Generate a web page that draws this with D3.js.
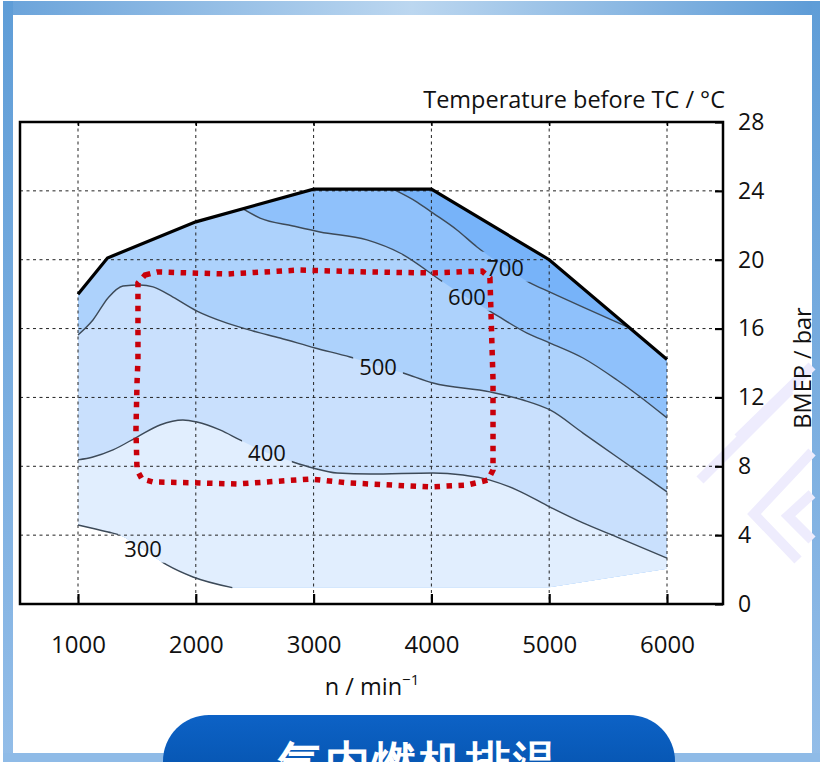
<!DOCTYPE html>
<html><head><meta charset="utf-8">
<script src="https://cdn.jsdelivr.net/npm/d3@7"></script>
<style>
html,body{margin:0;padding:0;background:#fff;overflow:hidden}
svg{display:block}
text{font-family:"Open Sans","Noto Sans",sans-serif}
</style></head>
<body>
<svg id="c" width="820" height="762"></svg>
<script>
// ---------------- data ----------------
const xTicks = [1000, 2000, 3000, 4000, 5000, 6000];
const yTicks = [0, 4, 8, 12, 16, 20, 24, 28];
const xTitle = "n / min";
const yTitle = "BMEP / bar";
const topTitle = "Temperature before TC / °C";
const bannerText = "气内燃机排温";

// full-load curve (n, BMEP)
const fullLoad = [[1000,18.0],[1250,20.1],[2000,22.2],[3000,24.1],[4000,24.1],[5000,20.0],[6000,14.2]];
// lower limit of the measured map (from the end of the 300 °C line to the right edge)
const lowerBound = [[2310,0.97],[5000,0.97],[6000,2.05]];

// iso-temperature contours (°C) : points (n, BMEP)
const c300 = [[1000,4.59],[1255,4.18],[1357,4.0],[1550,3.2],[1755,2.27],[1976,1.57],[2310,0.95]];
const c400 = [[1000,8.37],[1127,8.54],[1297,8.95],[1501,9.70],[1696,10.40],[1891,10.69],[2010,10.57],[2205,10.11],[2375,9.53],[2600,8.8],[2825,8.25],[2995,7.90],[3199,7.61],[3479,7.55],[4014,7.61],[4268,7.49],[4497,7.20],[4727,6.62],[5007,5.63],[5287,4.71],[5576,3.89],[6000,2.67]];
const c500 = [[1000,15.63],[1127,16.50],[1255,17.78],[1382,18.47],[1526,18.53],[1637,18.42],[1806,17.83],[2010,17.02],[2265,16.32],[2486,15.86],[2715,15.45],[3012,14.87],[3309,14.35],[3540,13.85],[3759,13.42],[4014,12.84],[4497,12.32],[4778,11.85],[5007,11.27],[5287,9.93],[5576,8.54],[6000,6.51]];
const c600 = [[2401,22.95],[2545,22.42],[2825,21.96],[3054,21.61],[3453,21.15],[3733,20.39],[4098,18.71],[4300,17.8],[4523,16.90],[4812,15.74],[5007,15.16],[5287,14.29],[5576,13.01],[5760,12.1],[6000,10.81]];
const c700 = [[3674,24.1],[3878,23.35],[4014,22.71],[4217,21.73],[4387,20.74],[4620,19.6],[4837,18.65],[5007,18.12],[5287,17.25],[5686,16.03]];

const contourLevels = [300, 400, 500, 600, 700];
const contourLines  = [c300, c400, c500, c600, c700];
// label anchor positions (n, BMEP)
const labelPos = [[1552,3.20],[2604,8.77],[3547,13.77],[4302,17.83],[4625,19.52]];
// band colours: above each contour level (300-400, 400-500, 500-600, 600-700, >700)
const bandColors = ["#e1eefe", "#c9e0fd", "#add2fc", "#8fc1fb", "#77b3f9"];

// hand-drawn red dotted marker (n, BMEP)
const marker = [[1569,19.11],[1671,19.29],[2265,19.17],[2885,19.40],[3453,19.29],[4014,19.23],[4430,19.34],[4497,18.94],[4523,13.01],[4523,7.78],[4480,7.20],[4302,6.91],[3988,6.80],[3309,7.03],[2969,7.26],[2350,6.97],[2036,7.03],[1637,7.09],[1543,7.26],[1501,7.78],[1492,10.11],[1501,12.84],[1509,14.17],[1509,18.65]];

(function () {
const svg = d3.select("#c");
const defs = svg.append("defs");

// frame gradients
const gTop = defs.append("linearGradient").attr("id","gTop").attr("x1","0").attr("x2","1");
gTop.append("stop").attr("offset","0").attr("stop-color","#6aa3da");
gTop.append("stop").attr("offset","0.5").attr("stop-color","#bcd7f0");
gTop.append("stop").attr("offset","1").attr("stop-color","#5d9bd6");
const gSide = defs.append("linearGradient").attr("id","gSide").attr("x1","0").attr("x2","0").attr("y1","0").attr("y2","1");
gSide.append("stop").attr("offset","0").attr("stop-color","#5f9dd7");
gSide.append("stop").attr("offset","1").attr("stop-color","#93bde8");
const gBtn = defs.append("linearGradient").attr("id","gBtn").attr("x1","0").attr("x2","0").attr("y1","0").attr("y2","1");
gBtn.append("stop").attr("offset","0").attr("stop-color","#0d62c6");
gBtn.append("stop").attr("offset","1").attr("stop-color","#004a9e");

svg.append("rect").attr("x",0).attr("y",0).attr("width",820).attr("height",762).attr("fill","#fff");
// outer page frame
svg.append("rect").attr("x",3).attr("y",1).attr("width",817).attr("height",14).attr("fill","url(#gTop)");
svg.append("rect").attr("x",3).attr("y",1).attr("width",10).attr("height",761).attr("fill","url(#gSide)");
svg.append("rect").attr("x",812).attr("y",1).attr("width",8).attr("height",761).attr("fill","url(#gSide)");
svg.append("rect").attr("x",3).attr("y",753).attr("width",817).attr("height",9).attr("fill","#8fbbe7");

// watermark chevrons (faint)
const wm = svg.append("g").attr("fill","none").attr("stroke","#eeecfd").attr("stroke-width",10);
wm.append("path").attr("d","M700,480 L790,390");
wm.append("path").attr("d","M738,438 L812,366");
wm.append("path").attr("d","M812,452 L754,514 L798,560");
wm.append("path").attr("d","M812,494 L788,516 L812,540");

// scales
const x = d3.scaleLinear().domain([1000, 6000]).range([78, 667]);
const y = d3.scaleLinear().domain([0, 28]).range([604, 122]);
const pL = 20, pR = 723, pT = y(28), pB = y(0);

const line = d3.line().x(d => x(d[0])).y(d => y(d[1])).curve(d3.curveMonotoneX);
const lin  = d3.line().x(d => x(d[0])).y(d => y(d[1]));

// domain outline: 300 °C line, lower bound, full-load (reversed)
const domainD = line(c300) + lin(lowerBound).replace(/^M/, "L") + lin(fullLoad.slice().reverse()).replace(/^M/, "L") + "Z";
defs.append("clipPath").attr("id","dom").append("path").attr("d", domainD);

const bands = svg.append("g").attr("clip-path","url(#dom)");
bands.append("path").attr("d", domainD).attr("fill", bandColors[4]);

function belowPath(pts) {
  const first = pts[0], last = pts[pts.length - 1];
  const pre = first[0] <= 1000 ? [[800, first[1]]] : [[800, 30], [first[0], 30]];
  const post = [[6700, last[1]], [6700, -2], [800, -2]];
  return lin(pre) + line(pts).replace(/^M/, "L") + lin(post).replace(/^M/, "L") + "Z";
}
for (let i = contourLines.length - 1; i >= 1; i--) {
  bands.append("path").attr("d", belowPath(contourLines[i])).attr("fill", bandColors[i - 1]);
}

// grid
const grid = svg.append("g").attr("stroke","#222").attr("stroke-width",1).attr("stroke-dasharray","3,3.5");
grid.selectAll("line.v").data(xTicks).join("line").attr("class","v")
  .attr("x1", d => x(d)).attr("x2", d => x(d)).attr("y1", pT).attr("y2", pB);
grid.selectAll("line.h").data(yTicks.filter(d => d > 0 && d < 28)).join("line").attr("class","h")
  .attr("x1", pL).attr("x2", pR).attr("y1", d => y(d)).attr("y2", d => y(d));

// contour labels, then lines with gaps
const labels = svg.append("g").selectAll("text").data(contourLevels).join("text")
  .attr("x", (d, i) => x(labelPos[i][0])).attr("y", (d, i) => y(labelPos[i][1]))
  .attr("text-anchor","middle").attr("dy","0.35em")
  .attr("font-size", 22).attr("fill","#111").text(d => d);

const mask = defs.append("mask").attr("id","gap").attr("maskUnits","userSpaceOnUse")
  .attr("x",0).attr("y",0).attr("width",820).attr("height",762);
mask.append("rect").attr("x",0).attr("y",0).attr("width",820).attr("height",762).attr("fill","#fff");
labels.each(function() {
  const b = this.getBBox();
  mask.append("rect").attr("x", b.x - 6).attr("y", b.y).attr("width", b.width + 12).attr("height", b.height).attr("fill","#000");
});

svg.append("g").attr("mask","url(#gap)").selectAll("path").data(contourLines).join("path")
  .attr("d", d => line(d)).attr("fill","none").attr("stroke","#3d4a58").attr("stroke-width",1.4);

// full load curve
svg.append("path").attr("d", lin(fullLoad)).attr("fill","none").attr("stroke","#000").attr("stroke-width",3.2);

// red dotted marker
svg.append("path").attr("d", d3.line().x(d => x(d[0])).y(d => y(d[1])).curve(d3.curveLinearClosed)(marker))
  .attr("fill","none").attr("stroke","#c8000a").attr("stroke-width",5.5).attr("stroke-dasharray","5.5,6.5");

// frame
svg.append("rect").attr("x", pL).attr("y", pT).attr("width", pR - pL).attr("height", pB - pT)
  .attr("fill","none").attr("stroke","#000").attr("stroke-width",2.5);

// axes
const xAxis = svg.append("g").attr("transform", `translate(0,${pB})`)
  .call(d3.axisBottom(x).tickValues(xTicks).tickSizeInner(-10).tickSizeOuter(0).tickPadding(32).tickFormat(d3.format("d")));
xAxis.select(".domain").remove();
xAxis.selectAll("line").attr("stroke","#000").attr("stroke-width",2.2);
xAxis.selectAll("text").attr("font-size",24).attr("fill","#111").attr("font-family","'Open Sans',sans-serif");

const xTop = svg.append("g").attr("transform", `translate(0,${pT})`)
  .call(d3.axisTop(x).tickValues(xTicks).tickSizeInner(-4).tickSizeOuter(0).tickFormat(""));
xTop.select(".domain").remove();
xTop.selectAll("line").attr("stroke","#000").attr("stroke-width",1.5);

const yAxis = svg.append("g").attr("transform", `translate(${pR},0)`)
  .call(d3.axisRight(y).tickValues(yTicks).tickSizeInner(-8).tickSizeOuter(0).tickPadding(15));
yAxis.select(".domain").remove();
yAxis.selectAll("line").attr("stroke","#000").attr("stroke-width",2.2);
yAxis.selectAll("text").attr("font-size",23).attr("fill","#111").attr("font-family","'Open Sans',sans-serif");

// titles
svg.append("text").attr("x", 725).attr("y", 108).attr("text-anchor","end")
  .attr("font-size", 23.5).attr("fill","#111").text(topTitle);
svg.append("text").attr("transform","translate(811,368) rotate(-90)").attr("text-anchor","middle")
  .attr("font-size", 23.5).attr("fill","#111").text(yTitle);
const xt = svg.append("text").attr("x", 372).attr("y", 695).attr("text-anchor","middle")
  .attr("font-size", 23.5).attr("fill","#111");
xt.append("tspan").text(xTitle);
xt.append("tspan").attr("font-size", 15).attr("dy", -10).text("−1");

// banner button
svg.append("rect").attr("x",163).attr("y",715).attr("width",512).attr("height",110).attr("rx",46).attr("ry",46).attr("fill","url(#gBtn)");
svg.append("text").attr("x", 419).attr("y", 778).attr("text-anchor","middle")
  .attr("font-family","'Noto Sans CJK SC',sans-serif").attr("font-weight",700)
  .attr("font-size", 45).attr("letter-spacing", 2).attr("fill","#fff").text(bannerText);
})();
</script>
</body></html>
